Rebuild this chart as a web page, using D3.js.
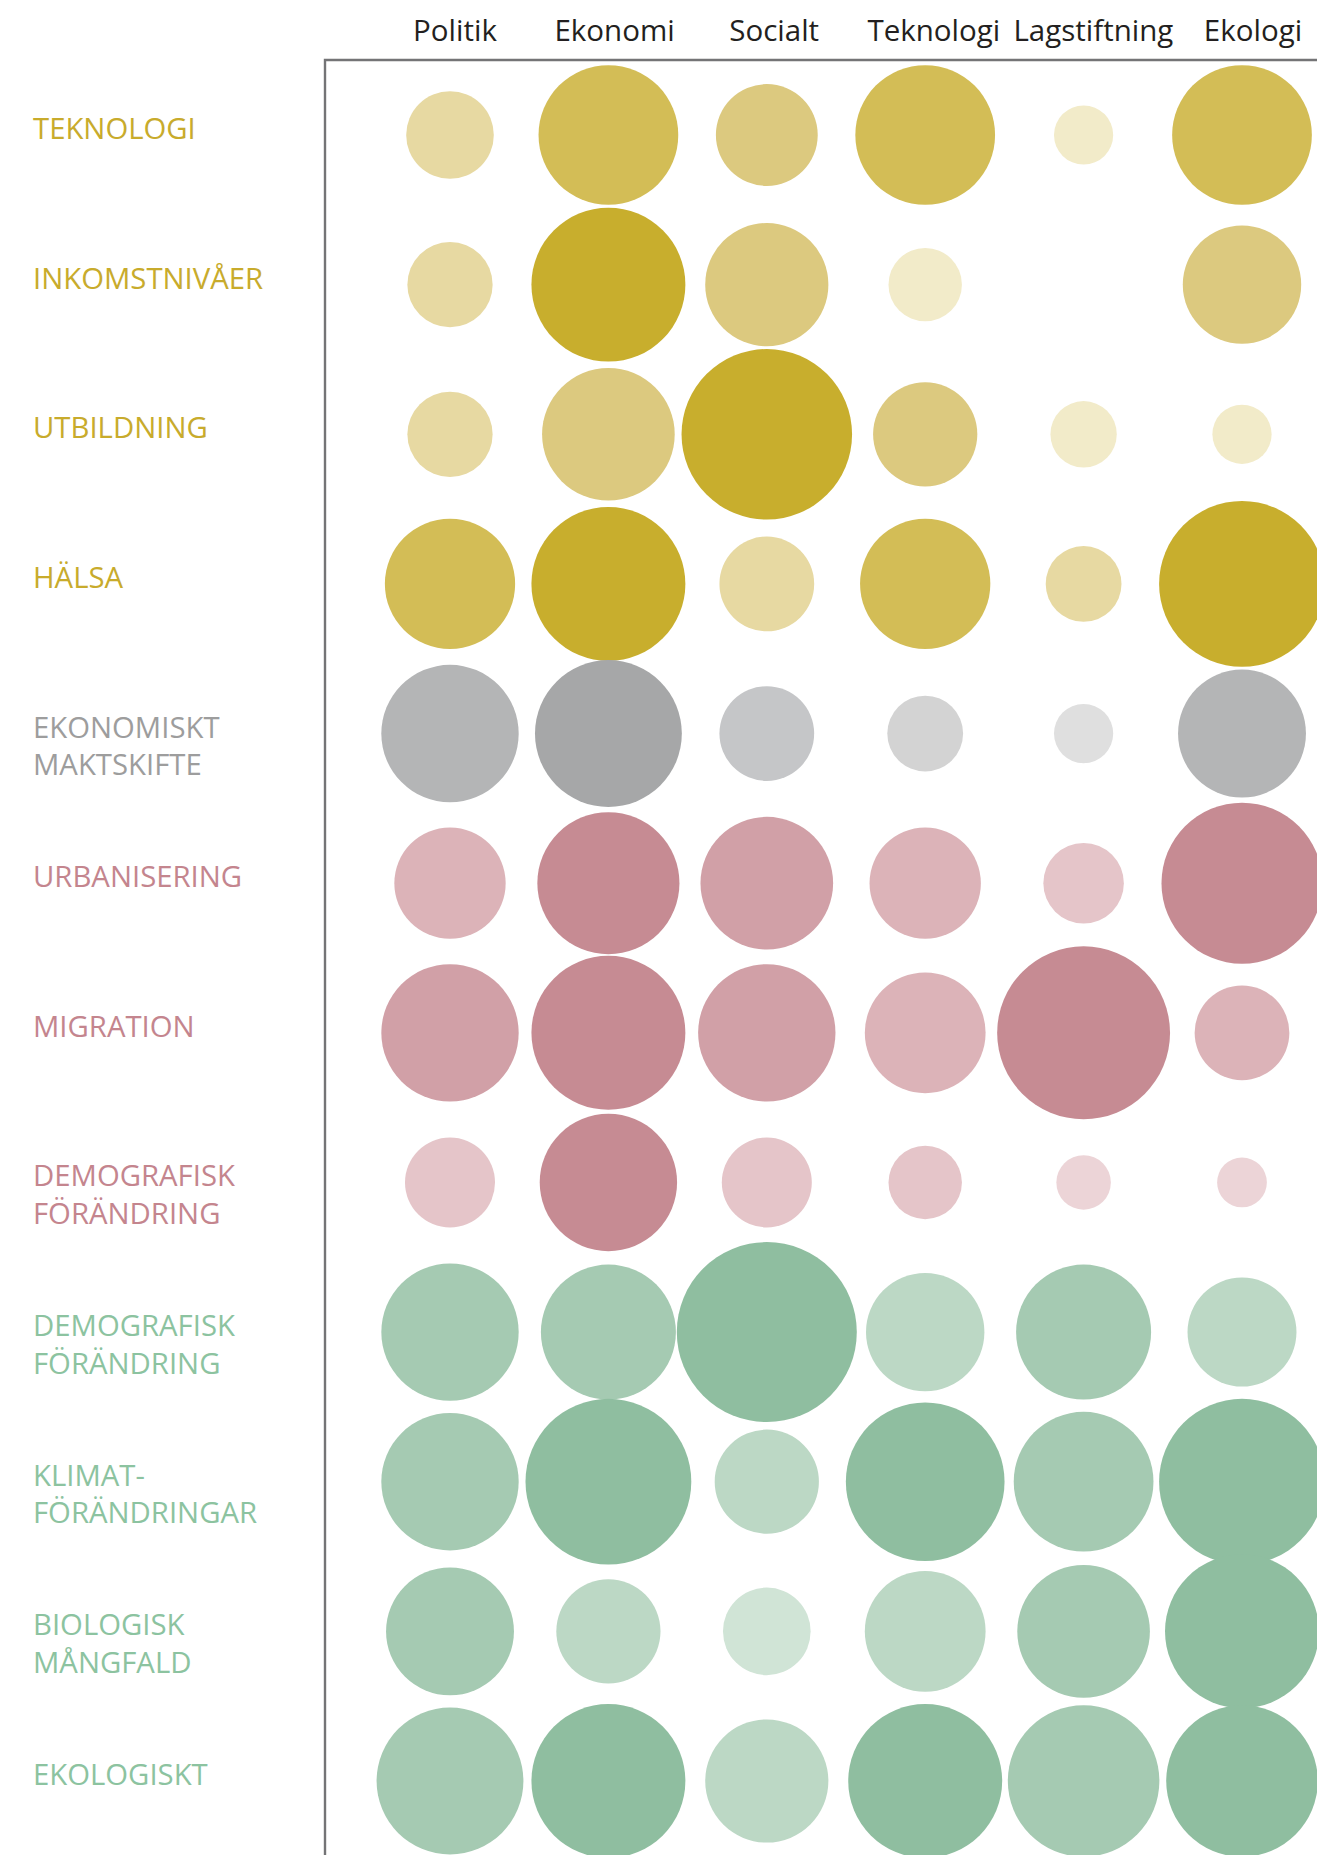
<!DOCTYPE html>
<html>
<head>
<meta charset="utf-8">
<script src="https://cdn.jsdelivr.net/npm/d3@7"></script>
<style>
  html, body { margin: 0; padding: 0; background: #fff; }
  svg { display: block; }
</style>
</head>
<body>
<script>
// ---- data ----
const columns = ["Politik", "Ekonomi", "Socialt", "Teknologi", "Lagstiftning", "Ekologi"];
const rowLabels = [
  ["TEKNOLOGI"], ["INKOMSTNIVÅER"], ["UTBILDNING"], ["HÄLSA"],
  ["EKONOMISKT", "MAKTSKIFTE"], ["URBANISERING"], ["MIGRATION"],
  ["DEMOGRAFISK", "FÖRÄNDRING"], ["DEMOGRAFISK", "FÖRÄNDRING"],
  ["KLIMAT-", "FÖRÄNDRINGAR"], ["BIOLOGISK", "MÅNGFALD"], ["EKOLOGISKT"]
];
const rowGroups = ["gul", "gul", "gul", "gul", "grå", "rosa", "rosa", "rosa", "grön", "grön", "grön", "grön"];
// circle size (relative units)
const sizes = [
  [37, 59, 43, 59, 25, 59],
  [36, 65, 52, 31, 0, 50],
  [36, 56, 72, 44, 28, 25],
  [55, 65, 40, 55, 32, 70],
  [58, 62, 40, 32, 25, 54],
  [47, 60, 56, 47, 34, 68],
  [58, 65, 58, 51, 73, 40],
  [38, 58, 38, 31, 23, 21],
  [58, 57, 76, 50, 57, 46],
  [58, 70, 44, 67, 59, 70],
  [54, 44, 37, 51, 56, 65],
  [62, 65, 52, 65, 64, 64]
];
// colour intensity level 1..5
const levels = [
  [2, 4, 3, 4, 1, 4],
  [2, 5, 3, 1, 0, 3],
  [2, 3, 5, 3, 1, 1],
  [4, 5, 2, 4, 2, 5],
  [4, 5, 3, 2, 1, 4],
  [3, 5, 4, 3, 2, 5],
  [4, 5, 4, 3, 5, 3],
  [2, 5, 2, 2, 1, 1],
  [4, 4, 5, 3, 4, 3],
  [4, 5, 3, 5, 4, 5],
  [4, 3, 2, 3, 4, 5],
  [4, 5, 3, 5, 4, 5]
];

// ---- styles ----
const palettes = {
  "gul":  ["#f2ebc9", "#e7d9a2", "#dcc97f", "#d3bd56", "#c8ae2d"],
  "grå":  ["#dfdfdf", "#d3d3d3", "#c5c6c8", "#b4b5b6", "#a6a7a8"],
  "rosa": ["#ecd4d7", "#e5c5c9", "#dcb3b8", "#d1a0a7", "#c68b93"],
  "grön": ["#dcebe1", "#d0e4d6", "#bcd8c5", "#a5cab2", "#8fbea0"]
};
const labelColors = { "gul": "#c8ab2c", "grå": "#9d9d9d", "rosa": "#c4858e", "grön": "#8cc3a0" };

const W = 1317, H = 1855;
const svg = d3.select("body").append("svg").attr("width", W).attr("height", H);

const rowIdx = d3.range(rowLabels.length);
const x = d3.scalePoint().domain(columns).range([450, 1242]);
const xHead = d3.scalePoint().domain(columns).range([455, 1253]);
const y = d3.scalePoint().domain(rowIdx).range([135, 1781]);
const r = d3.scaleLinear().domain([0, 76]).range([0, 90]);

// frame
svg.append("path")
  .attr("d", `M${W + 10},60 H325 V${H + 10}`)
  .attr("fill", "none").attr("stroke", "#747476").attr("stroke-width", 2.4);

// header
svg.append("g").selectAll("text").data(columns).join("text")
  .attr("x", d => xHead(d)).attr("y", 41)
  .attr("text-anchor", "middle")
  .attr("font-family", "'Open Sans', sans-serif")
  .attr("font-size", 29.5)
  .attr("fill", "#231f20")
  .text(d => d);

// row labels
const lab = svg.append("g").selectAll("text").data(rowIdx).join("text")
  .attr("x", 33)
  .attr("y", d => y(d) + 4)
  .attr("font-family", "'Open Sans', sans-serif")
  .attr("font-size", 29.3)
  .attr("fill", d => labelColors[rowGroups[d]]);
lab.selectAll("tspan").data(d => rowLabels[d]).join("tspan")
  .attr("x", 33)
  .attr("dy", (d, i) => i === 0 ? 0 : 37.6)
  .text(d => d);

// circles
const cells = [];
rowIdx.forEach(ri => columns.forEach((c, ci) => {
  if (sizes[ri][ci] > 0) cells.push({ ri, c, s: sizes[ri][ci], lvl: levels[ri][ci] });
}));
svg.append("g").selectAll("circle").data(cells).join("circle")
  .attr("cx", d => x(d.c))
  .attr("cy", d => y(d.ri))
  .attr("r", d => r(d.s))
  .attr("fill", d => palettes[rowGroups[d.ri]][d.lvl - 1]);
</script>
</body>
</html>
